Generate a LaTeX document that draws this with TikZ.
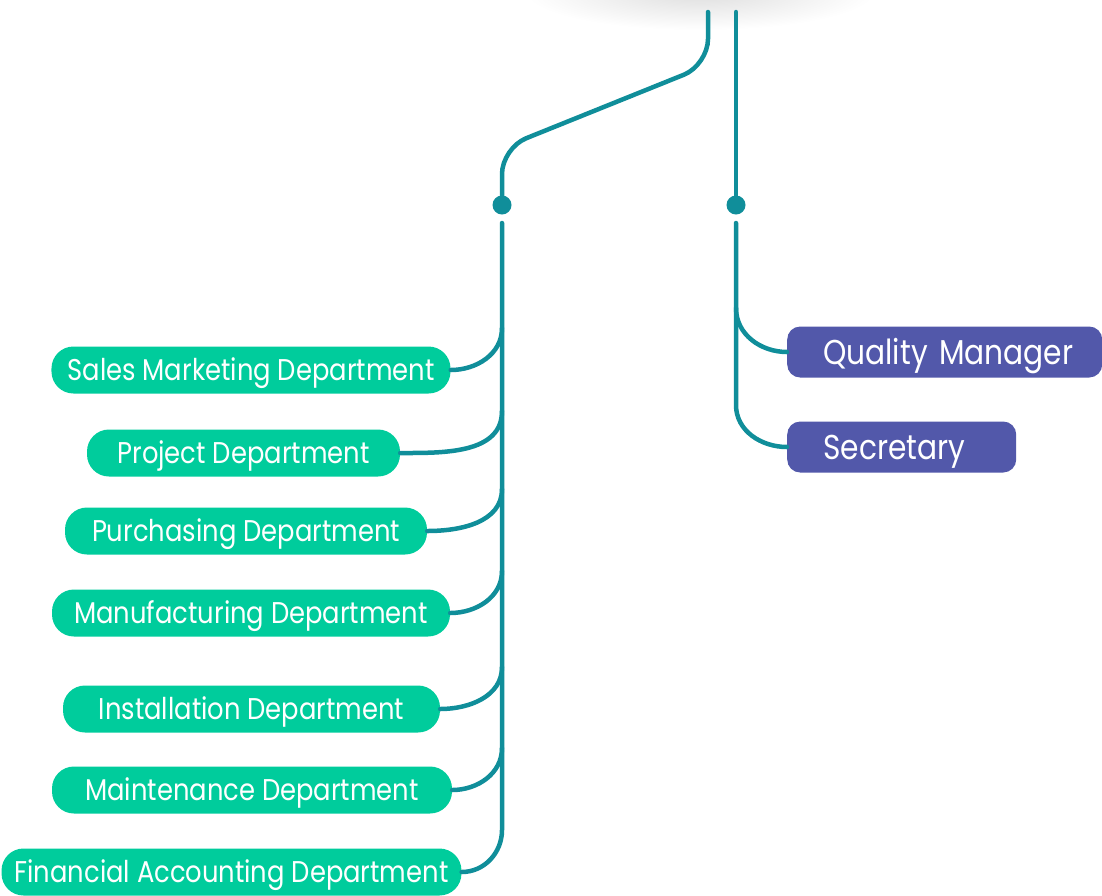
\documentclass[tikz,border=0pt]{standalone}
\usepackage{fontspec}
\setmainfont[FakeStretch=0.86]{Poppins}
\usetikzlibrary{shapes,arrows}

\definecolor{linkcol}{RGB}{16,142,154}
\definecolor{deptcol}{RGB}{0,204,156}
\definecolor{staffcol}{RGB}{82,88,170}

\tikzset{
  link/.style={draw=linkcol, line width=4.5pt, line cap=round},
  junction/.style={circle, fill=linkcol, inner sep=0pt, minimum size=19pt},
  dept/.style={fill=deptcol, text=white, rounded corners=22pt, minimum height=47pt,
    inner xsep=16pt, inner ysep=0pt, text height=22pt, text depth=1pt,
    font=\fontsize{30}{33}\selectfont},
  staff/.style={fill=staffcol, text=white, rounded corners=13pt, minimum height=51pt,
    inner xsep=0pt, inner ysep=0pt, anchor=west, align=left,
    text height=25pt, text depth=1pt,
    execute at begin node=\hspace*{36pt},
    font=\fontsize{34.5}{37}\selectfont},
}

\begin{document}
\begin{tikzpicture}[x=1pt, y=-1pt]
\useasboundingbox (0,0) rectangle (1102,895);
\begin{scope}
\clip (0,0) rectangle (1102,895);
% shadow of the head box above the page
\shade[inner color=black!13, outer color=white] (700,-8) ellipse [x radius=175, y radius=38];
\end{scope}

% junctions
\node[junction] (ljunc) at (502,205) {};
\node[junction] (rjunc) at (736,205) {};
\coordinate (ltop) at (708,12);
\coordinate (rtop) at (736,12);
\coordinate (ltrunk) at (502,223);
\coordinate (rtrunk) at (736,223);

\draw[link, rounded corners=26pt] (ltop) -- (708,65) -- (502,148) -- (ljunc.center);
\draw[link] (rtop) -- (rjunc.center);

% departments
\foreach \name/\x/\y/\w/\txt in {sales/251/370/398/Sales Marketing Department,
    project/243.5/453/313/Project Department,
    purchase/246/531/362/Purchasing Department,
    manufact/251/613/398/Manufacturing Department,
    install/251.5/709/377/Installation Department,
    maint/252/790/400/Maintenance Department} {
  \node[dept, minimum width=\w pt] (\name) at (\x,\y) {\txt};
  \coordinate (\name-tap) at (502,{\y-42});
  \draw[link] (\name-tap) to[out=-90, in=0] (\name.east);
}
\node[dept, inner xsep=13pt, minimum width=457pt] (finance) at (231.5,872) {Financial Accounting Department};
\coordinate (finance-tap) at (502,830);
\draw[link] (ltrunk) -- (finance-tap) to[out=-90, in=0] (finance.east);

% staff
\node[staff, text width=315pt] (quality) at (787,352) {Quality Manager};
\node[staff, text width=229pt] (secret) at (787,447) {Secretary};
\coordinate (quality-tap) at (736,308);
\coordinate (secret-tap) at (736,405);
\draw[link] (rtrunk) -- (secret-tap) to[out=-90, in=180] (secret.west);
\draw[link] (quality-tap) to[out=-90, in=180] (quality.west);
\end{tikzpicture}
\end{document}
